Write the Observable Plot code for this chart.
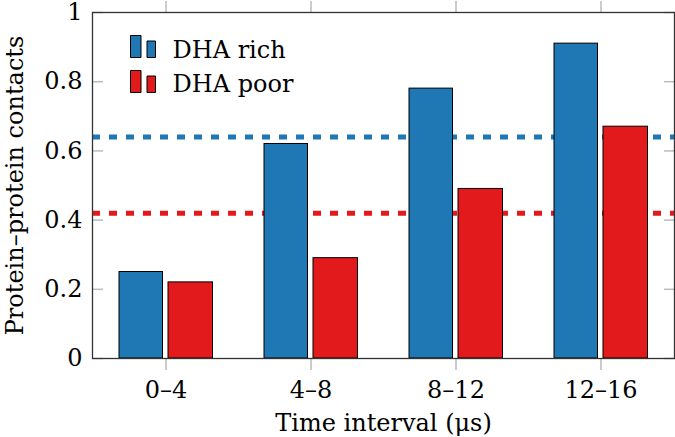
<!DOCTYPE html>
<html><head><meta charset="utf-8">
<script src="https://cdn.jsdelivr.net/npm/d3@7"></script>
<script src="https://cdn.jsdelivr.net/npm/@observablehq/plot@0.6"></script>
<style>body{margin:0;background:#fff}</style>
</head><body><div id="chart"></div>
<script>
const intervals = ["0–4", "4–8", "8–12", "12–16"];
const dhaRich = [0.25, 0.62, 0.78, 0.91];
const dhaPoor = [0.22, 0.29, 0.49, 0.67];
const averageRich = 0.64;
const averagePoor = 0.42;
const yTicks = [0, 0.2, 0.4, 0.6, 0.8, 1];
const yTickLabels = ["0", "0.2", "0.4", "0.6", "0.8", "1"];
const seriesNames = ["DHA rich", "DHA poor"];
const colors = ["#1f77b4", "#e31a1c"];

const rich = intervals.map((c, i) => ({c, v: dhaRich[i]}));
const poor = intervals.map((c, i) => ({c, v: dhaPoor[i]}));

const swatchSymbol = {
  draw(ctx) {
    ctx.rect(-12.5, -11, 10.5, 22);
    ctx.rect(4, -5.5, 8.5, 16.5);
  }
};

const tickColor = "#bbbbbb";

const chart = Plot.plot({
  width: 675, height: 437,
  marginLeft: 92, marginTop: 12, marginRight: 1, marginBottom: 79,
  style: {fontFamily: "DejaVu Serif", fontSize: "24px", background: "#fff", color: "#000"},
  x: {domain: intervals, padding: 0},
  y: {domain: [0, 1]},
  marks: [
    Plot.ruleY([averageRich], {stroke: colors[0], strokeWidth: 5, strokeDasharray: "8,9"}),
    Plot.ruleY([averagePoor], {stroke: colors[1], strokeWidth: 5, strokeDasharray: "8,9"}),
    Plot.barY(rich, {x: "c", y: "v", fill: colors[0], stroke: "#000", strokeWidth: 1, insetLeft: 26, insetRight: 75.5}),
    Plot.barY(poor, {x: "c", y: "v", fill: colors[1], stroke: "#000", strokeWidth: 1, insetLeft: 75, insetRight: 25.5}),
    Plot.axisY(yTicks, {anchor: "left", tickSize: 0, tickPadding: 10, tickFormat: d => yTickLabels[yTicks.indexOf(d)], label: "Protein–protein contacts", labelAnchor: "center", labelOffset: 87, labelArrow: "none"}),
    Plot.axisY(yTicks, {anchor: "left", tickSize: 11, insetLeft: 11, fill: "none", label: null, stroke: tickColor, strokeWidth: 1.5}),
    Plot.axisY(yTicks, {anchor: "right", tickSize: 11, insetRight: 11, fill: "none", label: null, stroke: tickColor, strokeWidth: 1.5}),
    Plot.axisX({anchor: "bottom", tickSize: 12, tickPadding: 10, stroke: tickColor, strokeWidth: 1.5, label: "Time interval (μs)", labelAnchor: "center", labelOffset: 72, labelArrow: "none"}),
    Plot.axisX({anchor: "top", tickSize: 12, fill: "none", label: null, stroke: tickColor, strokeWidth: 1.5}),
    Plot.frame({stroke: "#333", strokeWidth: 1.3}),
    Plot.dot([seriesNames[0]], {frameAnchor: "top-left", dx: 50.5, dy: 34, symbol: swatchSymbol, fill: colors[0], stroke: "#000", strokeWidth: 1}),
    Plot.dot([seriesNames[1]], {frameAnchor: "top-left", dx: 50.5, dy: 69, symbol: swatchSymbol, fill: colors[1], stroke: "#000", strokeWidth: 1}),
    Plot.text([seriesNames[0]], {frameAnchor: "top-left", dx: 80, dy: 38.3, text: d => d, textAnchor: "start", lineAnchor: "middle", fill: "#000"}),
    Plot.text([seriesNames[1]], {frameAnchor: "top-left", dx: 80, dy: 72.3, text: d => d, textAnchor: "start", lineAnchor: "middle", fill: "#000"})
  ]
});
document.getElementById("chart").appendChild(chart);
</script>
</body></html>
